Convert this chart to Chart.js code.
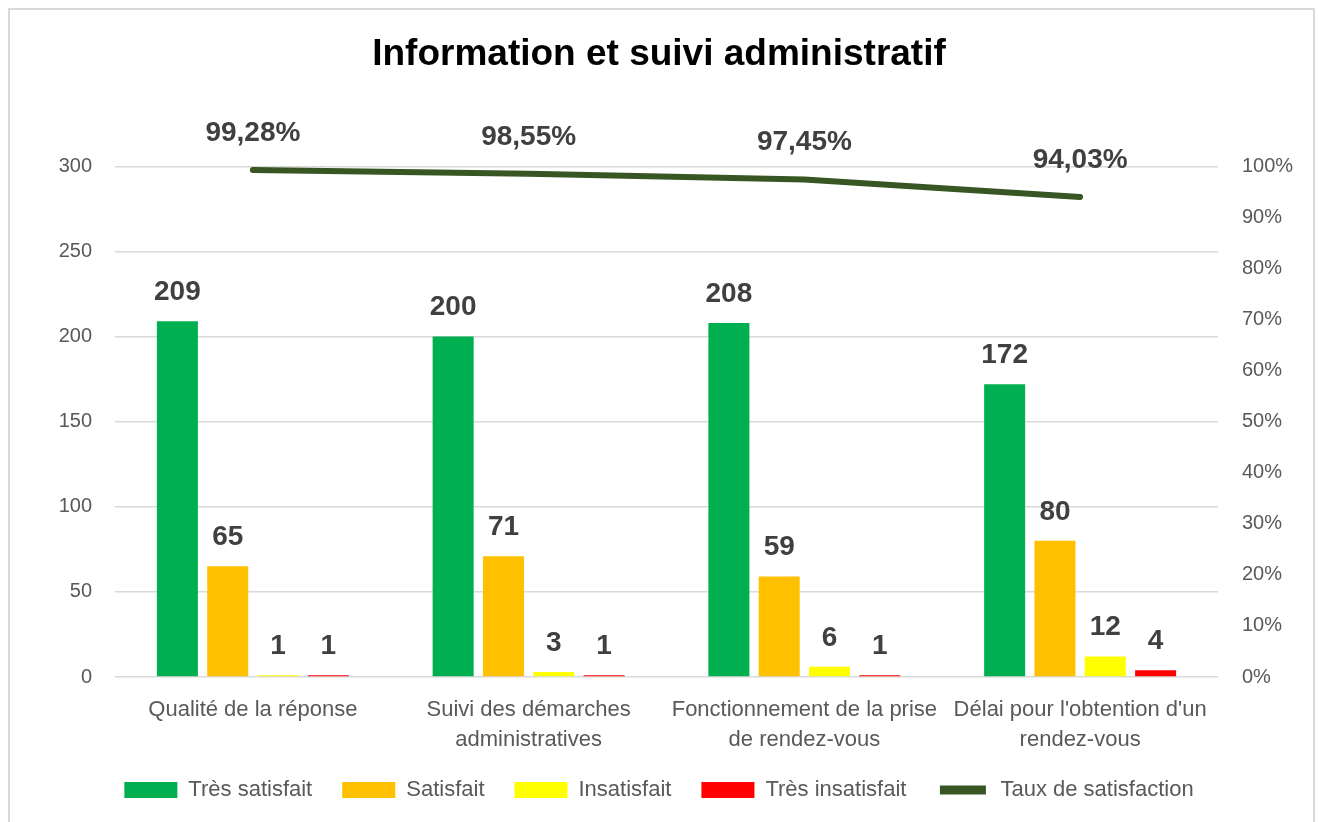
<!DOCTYPE html>
<html lang="fr">
<head>
<meta charset="UTF-8">
<title>Information et suivi administratif</title>
<script src="https://cdn.jsdelivr.net/npm/chart.js"></script>
<style>
    body { margin: 0; background: #fff; }
    .cadre { position: absolute; left: 8px; top: 8px; width: 1303px; height: 830px; border: 2px solid #d9d9d9; }
    .zone { position: absolute; left: 0; top: 0; width: 1318px; height: 822px; }
</style>
</head>
<body>
<div class="cadre"></div>
<div class="zone"><canvas id="graphique" width="1318" height="822"></canvas></div>
<script>
    // données
    var categories = [
        "Qualité de la réponse",
        ["Suivi des démarches", "administratives"],
        ["Fonctionnement de la prise", "de rendez-vous"],
        ["Délai pour l'obtention d'un", "rendez-vous"]
    ];
    var tresSatisfait = [209, 200, 208, 172];
    var satisfait = [65, 71, 59, 80];
    var insatisfait = [1, 3, 6, 12];
    var tresInsatisfait = [1, 1, 1, 4];
    var tauxSatisfaction = [0.9928, 0.9855, 0.9745, 0.9403];

    var police = "'Liberation Sans', Arial, sans-serif";
    Chart.defaults.font.family = police;

    function enPourcent(v) {
        return (v * 100).toFixed(2).replace('.', ',') + '%';
    }

    // étiquettes de valeurs au-dessus des barres et de la courbe
    var etiquettes = {
        id: 'etiquettes',
        afterDatasetsDraw: function (chart) {
            var ctx = chart.ctx;
            ctx.save();
            ctx.font = 'bold 28px ' + police;
            ctx.fillStyle = '#404040';
            ctx.textAlign = 'center';
            ctx.textBaseline = 'middle';
            chart.data.datasets.forEach(function (ds, i) {
                var meta = chart.getDatasetMeta(i);
                meta.data.forEach(function (el, j) {
                    if (ds.type === 'line') {
                        ctx.fillText(enPourcent(ds.data[j]), el.x, el.y - 37);
                    } else {
                        ctx.fillText(ds.data[j], el.x, el.y - 29);
                    }
                });
            });
            ctx.restore();
        }
    };

    const chart = new Chart('graphique', {
        type: 'bar',
        data: {
            labels: categories,
            datasets: [
                { label: 'Très satisfait', data: tresSatisfait, backgroundColor: '#00b050', yAxisID: 'y' },
                { label: 'Satisfait', data: satisfait, backgroundColor: '#ffc000', yAxisID: 'y' },
                { label: 'Insatisfait', data: insatisfait, backgroundColor: '#ffff00', yAxisID: 'y' },
                { label: 'Très insatisfait', data: tresInsatisfait, backgroundColor: '#ff0000', yAxisID: 'y' },
                {
                    type: 'line',
                    label: 'Taux de satisfaction',
                    data: tauxSatisfaction,
                    yAxisID: 'y2',
                    borderColor: '#375623',
                    backgroundColor: '#375623',
                    borderWidth: 6,
                    borderCapStyle: 'round',
                    pointRadius: 0,
                    tension: 0
                }
            ]
        },
        options: {
            responsive: false,
            animation: false,
            categoryPercentage: 0.73,
            barPercentage: 0.815,
            layout: { padding: { top: 0, left: 0, right: 0, bottom: 11 } },
            plugins: {
                tooltip: { enabled: false },
                title: {
                    display: true,
                    text: 'Information et suivi administratif',
                    color: '#000',
                    font: { size: 37, weight: 'bold' },
                    padding: { top: 33, bottom: 89 }
                },
                legend: {
                    position: 'bottom',
                    labels: {
                        color: '#595959',
                        font: { size: 22 },
                        boxWidth: 53,
                        boxHeight: 16,
                        padding: 30,
                        generateLabels: function (chart) {
                            var items = Chart.defaults.plugins.legend.labels.generateLabels(chart);
                            items.forEach(function (it) {
                                if (it.text === 'Taux de satisfaction') {
                                    it.fillStyle = '#375623';
                                    it.strokeStyle = '#ffffff';
                                    it.lineWidth = 7;
                                }
                            });
                            return items;
                        }
                    }
                }
            },
            scales: {
                x: {
                    grid: { display: false, drawTicks: false },
                    border: { display: false },
                    ticks: {
                        color: '#595959',
                        font: { size: 22, lineHeight: 1.36 },
                        padding: 18,
                        maxRotation: 0
                    },
                    afterFit: function (scale) { scale.height = 72; }
                },
                y: {
                    position: 'left',
                    min: 0,
                    max: 300,
                    ticks: { stepSize: 50, color: '#595959', font: { size: 20 }, padding: 23 },
                    grid: { color: '#d9d9d9', lineWidth: 1.5, drawTicks: false },
                    border: { display: false },
                    afterFit: function (scale) { scale.width = 115; }
                },
                y2: {
                    position: 'right',
                    min: 0,
                    max: 1,
                    ticks: {
                        stepSize: 0.1,
                        color: '#595959',
                        font: { size: 20 },
                        padding: 24,
                        callback: function (v) { return Math.round(v * 100) + '%'; }
                    },
                    grid: { display: false, drawTicks: false },
                    border: { display: false },
                    afterFit: function (scale) { scale.width = 100; }
                }
            }
        },
        plugins: [etiquettes]
    });
</script>
</body>
</html>
